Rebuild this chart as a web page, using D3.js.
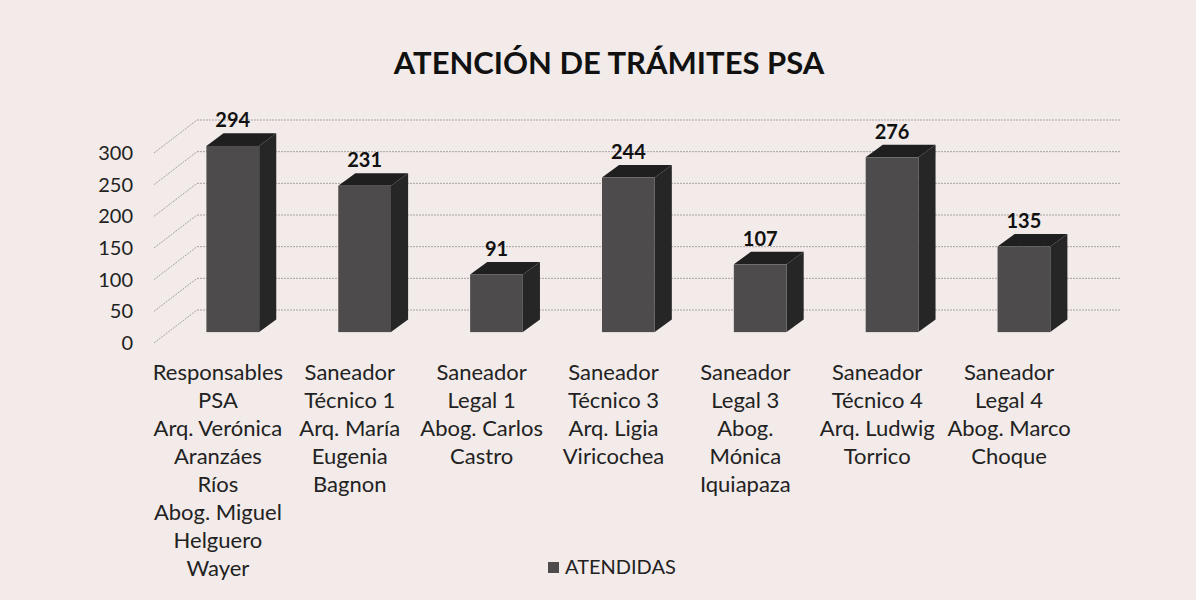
<!DOCTYPE html>
<html>
<head>
<meta charset="utf-8">
<script src="https://cdn.jsdelivr.net/npm/d3@7"></script>
<style>
  body { margin: 0; background: #f2ebe9; }
  svg { display: block; font-family: Lato, "Open Sans", sans-serif; }
</style>
</head>
<body>
<div id="chart-area"></div>
<script>
// Data
var categories = [
    ["Responsables", "PSA", "Arq. Verónica", "Aranzáes", "Ríos", "Abog. Miguel", "Helguero", "Wayer"],
    ["Saneador", "Técnico 1", "Arq. María", "Eugenia", "Bagnon"],
    ["Saneador", "Legal 1", "Abog. Carlos", "Castro"],
    ["Saneador", "Técnico 3", "Arq. Ligia", "Viricochea"],
    ["Saneador", "Legal 3", "Abog.", "Mónica", "Iquiapaza"],
    ["Saneador", "Técnico 4", "Arq. Ludwig", "Torrico"],
    ["Saneador", "Legal 4", "Abog. Marco", "Choque"]
];
var atendidas = [294, 231, 91, 244, 107, 276, 135];
var yTicks = [0, 50, 100, 150, 200, 250, 300];
var seriesName = "ATENDIDAS";
var title = "ATENCIÓN DE TRÁMITES PSA";

var width = 1196, height = 600;
// front plane of the 3D plot and depth offset to back wall
var front = { left: 152, right: 1075, bottom: 343, top: 153 };
var depth = { dx: 45, dy: -33 };

var svg = d3.select("#chart-area").append("svg")
    .attr("width", width)
    .attr("height", height);

var idx = d3.range(categories.length);
var x = d3.scaleBand().domain(idx).range([front.left, front.right]).paddingInner(0.6).paddingOuter(0.3);
var xBand = d3.scaleBand().domain(idx).range([front.left, front.right]);
var y = d3.scaleLinear().domain([0, 300]).range([front.bottom, front.top]);

// project a point: front x, value, depth fraction (0 = front, 1 = back)
function px(xf, d) { return xf + d * depth.dx; }
function py(v, d) { return y(v) + d * depth.dy; }

// Title
svg.append("text")
    .attr("x", 609).attr("y", 74)
    .attr("text-anchor", "middle")
    .attr("font-size", "31px").attr("font-weight", "bold")
    .attr("fill", "#111")
    .text(title);

// Gridlines on back wall + diagonal on side wall
var grid = svg.append("g").attr("stroke", "#a8a2a2").attr("stroke-width", 1).attr("stroke-dasharray", "2,1");
grid.selectAll("line.back").data(yTicks).enter().append("line")
    .attr("class", "back")
    .attr("x1", px(front.left, 1)).attr("x2", px(front.right, 1))
    .attr("y1", d => py(d, 1)).attr("y2", d => py(d, 1));
grid.selectAll("line.side").data(yTicks).enter().append("line")
    .attr("class", "side")
    .attr("x1", px(front.left, 0) + 2).attr("x2", px(front.left, 1))
    .attr("y1", d => py(d, 0)).attr("y2", d => py(d, 1));

// Y axis labels
svg.append("g").selectAll("text").data(yTicks).enter().append("text")
    .attr("x", 133).attr("y", d => y(d))
    .attr("dy", "0.35em")
    .attr("text-anchor", "end")
    .attr("font-size", "20px").attr("fill", "#222")
    .text(d => d);

// 3D bars
var d0 = 0.33, d1 = 0.71;
var bars = svg.append("g").selectAll("g").data(atendidas).enter().append("g");

bars.append("path") // side
    .attr("fill", "#262626")
    .attr("d", (v, i) => {
        var xr = x(i) + x.bandwidth();
        return `M${px(xr, d0)},${py(v, d0)} L${px(xr, d1)},${py(v, d1)} L${px(xr, d1)},${py(0, d1)} L${px(xr, d0)},${py(0, d0)}Z`;
    });
bars.append("path") // top
    .attr("fill", "#1f1f1f")
    .attr("d", (v, i) => {
        var xl = x(i), xr = x(i) + x.bandwidth();
        return `M${px(xl, d0)},${py(v, d0)} L${px(xl, d1)},${py(v, d1)} L${px(xr, d1)},${py(v, d1)} L${px(xr, d0)},${py(v, d0)}Z`;
    });
bars.append("rect") // front
    .attr("fill", "#4d4b4c")
    .attr("x", (v, i) => px(x(i), d0))
    .attr("y", v => py(v, d0))
    .attr("width", x.bandwidth())
    .attr("height", v => py(0, d0) - py(v, d0));

// Value labels
bars.append("text")
    .attr("x", (v, i) => px(x(i) + x.bandwidth() / 2, d0))
    .attr("y", v => py(v, d1) - 6)
    .attr("text-anchor", "middle")
    .attr("font-size", "20px").attr("font-weight", "bold")
    .attr("fill", "#111")
    .text(v => v);

// Category labels
var cat = svg.append("g").selectAll("text").data(categories).enter().append("text")
    .attr("text-anchor", "middle")
    .attr("font-size", "22px").attr("fill", "#222")
    .attr("x", (c, i) => xBand(i) + xBand.bandwidth() / 2)
    .attr("y", 380);
cat.selectAll("tspan").data(c => c).enter().append("tspan")
    .attr("x", function() { return d3.select(this.parentNode).attr("x"); })
    .attr("dy", (t, j) => j === 0 ? 0 : 28)
    .text(t => t);

// Legend
svg.append("rect").attr("x", 548).attr("y", 562).attr("width", 11).attr("height", 11).attr("fill", "#4d4b4c");
svg.append("text").attr("x", 565).attr("y", 574)
    .attr("font-size", "20px").attr("fill", "#222")
    .text(seriesName);
</script>
</body>
</html>
